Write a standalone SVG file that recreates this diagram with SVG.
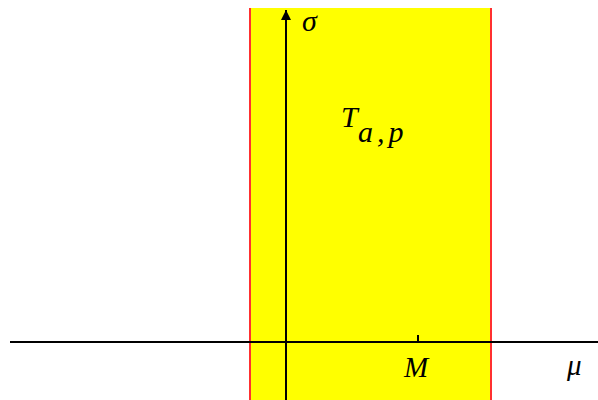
<svg xmlns="http://www.w3.org/2000/svg" width="598" height="400" viewBox="0 0 598 400">
<style>
.lbl{font-family:"Liberation Serif","Times New Roman",serif;font-style:italic;fill:#000;}
.ax{stroke:#000;stroke-width:2;fill:none;}
.edge{stroke:#ff3030;stroke-width:2;}
</style>
<defs>
<marker id="ah" markerWidth="12" markerHeight="12" refX="10" refY="5" orient="auto" markerUnits="userSpaceOnUse">
<path d="M0,0 L10,5 L0,10 z" fill="#000"/>
</marker>
</defs>
<rect width="598" height="400" fill="#fff"/>
<g id="region">
<rect x="250" y="8" width="241" height="392" fill="#ffff00"/>
<line class="edge" x1="250" y1="8" x2="250" y2="400"/>
<line class="edge" x1="491" y1="8" x2="491" y2="400"/>
<text class="lbl" x="341" y="127" font-size="30">T<tspan x="358" y="142" letter-spacing="4">a,p</tspan></text>
</g>
<g id="axes">
<line class="ax" x1="10" y1="342" x2="598" y2="342"/>
<line class="ax" x1="286" y1="400" x2="286" y2="10" marker-end="url(#ah)"/>
<line class="ax" x1="418" y1="335" x2="418" y2="342"/>
</g>
<g id="labels">
<text class="lbl" x="302" y="31" font-size="30">σ</text>
<text class="lbl" x="404" y="377" font-size="29">M</text>
<text class="lbl" x="567" y="375" font-size="29">μ</text>
</g>
</svg>
